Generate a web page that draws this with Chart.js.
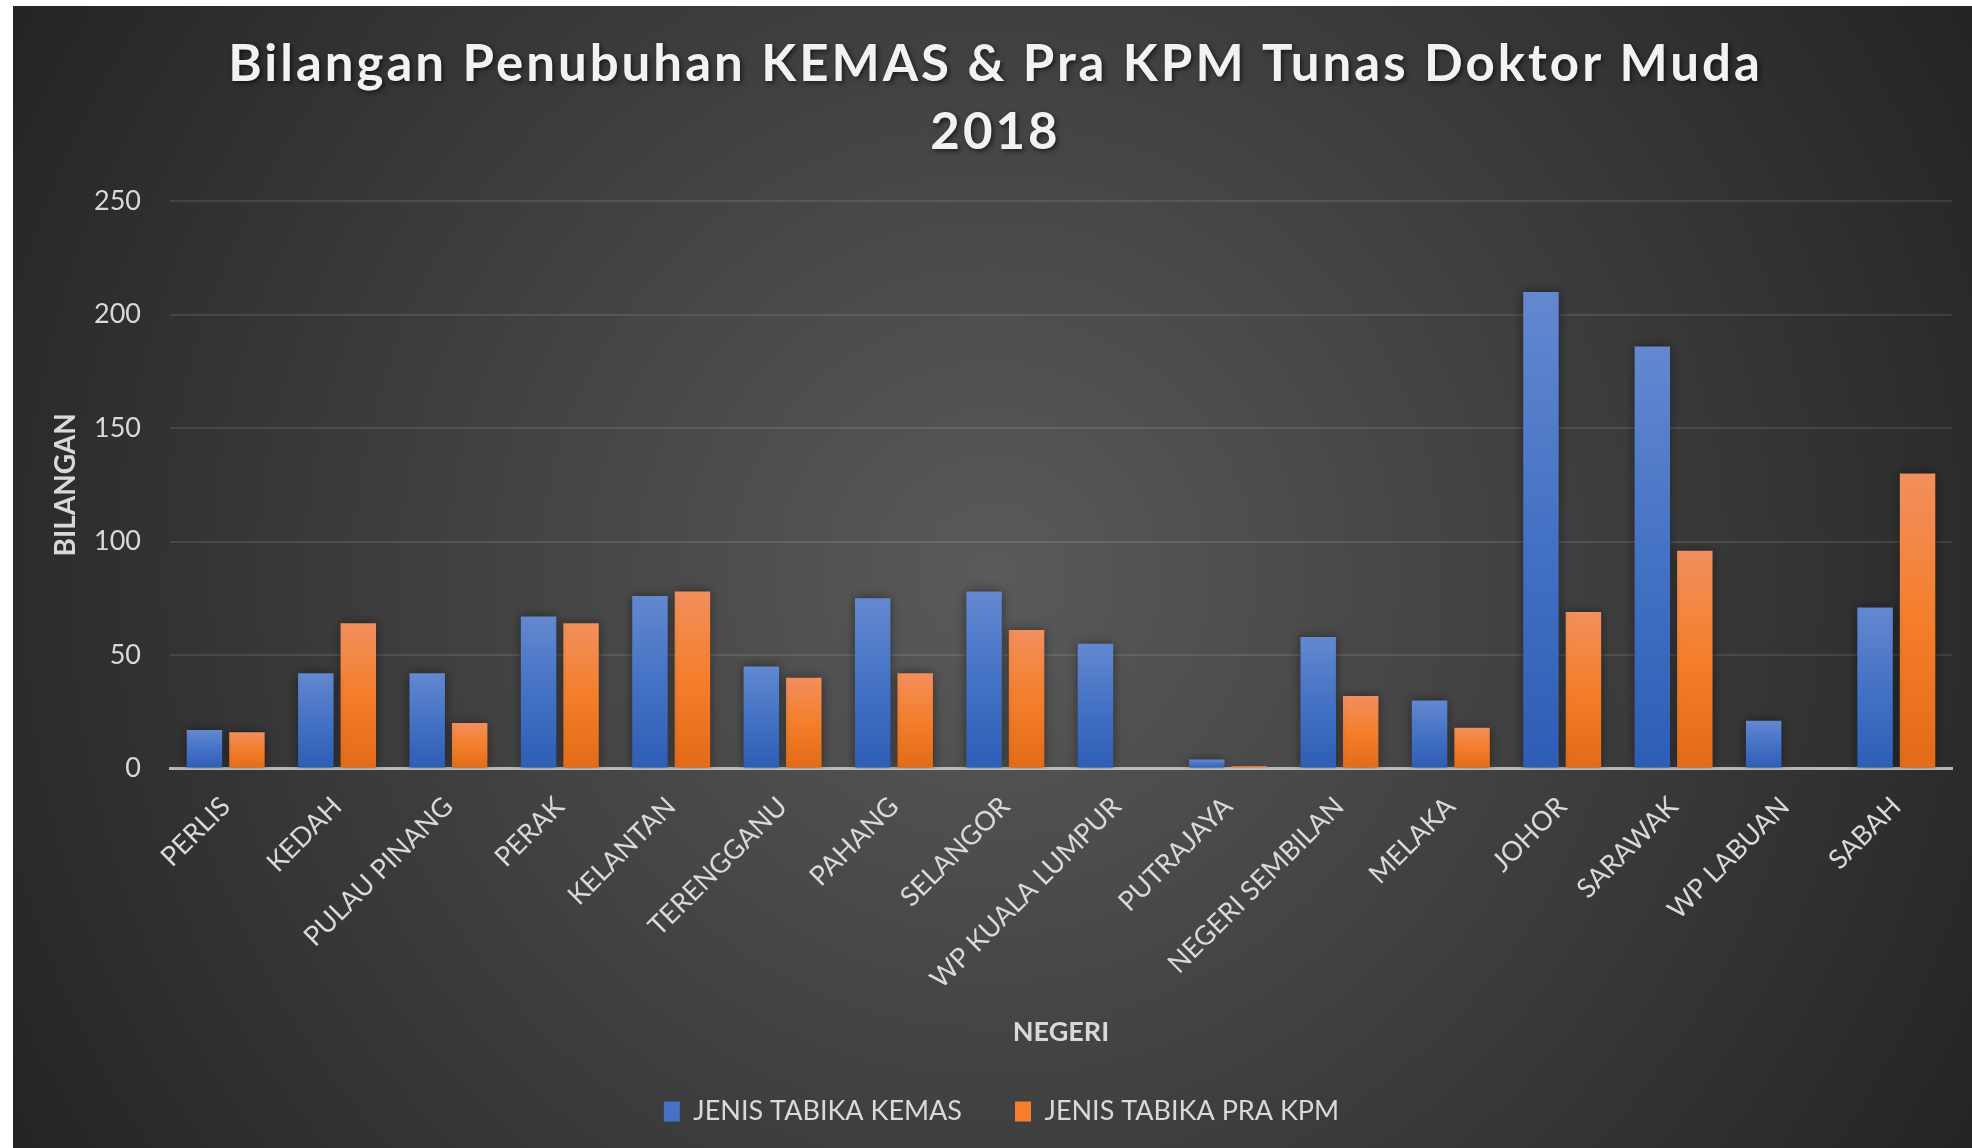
<!DOCTYPE html>
<html>
<head>
<meta charset="utf-8">
<script src="https://cdn.jsdelivr.net/npm/chart.js@4.4.0/dist/chart.umd.min.js"></script>
<style>
  html, body { margin: 0; padding: 0; background: #fff; }
  body { width: 1972px; height: 1148px; position: relative; overflow: hidden; }
  #chart { position: absolute; left: 13px; top: 6px; }
</style>
</head>
<body>
<canvas id="chart" width="1959" height="1142"></canvas>
<script>
const negeri = ['PERLIS', 'KEDAH', 'PULAU PINANG', 'PERAK', 'KELANTAN', 'TERENGGANU', 'PAHANG', 'SELANGOR',
  'WP KUALA LUMPUR', 'PUTRAJAYA', 'NEGERI SEMBILAN', 'MELAKA', 'JOHOR', 'SARAWAK', 'WP LABUAN', 'SABAH'];
const kemas = [17, 42, 42, 67, 76, 45, 75, 78, 55, 4, 58, 30, 210, 186, 21, 71];
const praKpm = [16, 64, 20, 64, 78, 40, 42, 61, 0, 1, 32, 18, 69, 96, 0, 130];
const yMax = 250;
const yStep = 50;

const blue = ['#6388d0', '#4472c4', '#2e5db6'];
const orange = ['#f28f5c', '#f47e2b', '#e36b18'];

// vertical gradient per bar, light on top, dark at the base
function barFill(stops) {
  return (ctx) => {
    const chart = ctx.chart;
    if (!chart.chartArea || ctx.type !== 'data') return stops[1];
    const y = chart.scales.y;
    const top = y.getPixelForValue(ctx.raw || 0);
    const base = y.getPixelForValue(0);
    if (!(base - top > 1)) return stops[1];
    const g = chart.ctx.createLinearGradient(0, top, 0, base);
    g.addColorStop(0, stops[0]);
    g.addColorStop(0.5, stops[1]);
    g.addColorStop(1, stops[2]);
    return g;
  };
}

const backdrop = {
  id: 'backdrop',
  beforeDraw(chart) {
    const { ctx, width, height } = chart;
    ctx.save();
    const g = ctx.createRadialGradient(width / 2, height / 2, 0, width / 2, height / 2, Math.hypot(width, height) / 2);
    g.addColorStop(0, '#5a5a5a');
    g.addColorStop(1, '#242424');
    ctx.fillStyle = g;
    ctx.fillRect(0, 0, width, height);
    ctx.restore();
  }
};

const barShadow = {
  id: 'barShadow',
  beforeDatasetsDraw(chart) {
    const ctx = chart.ctx;
    ctx.save();
    ctx.shadowColor = 'rgba(0,0,0,0.45)';
    ctx.shadowBlur = 10;
  },
  afterDatasetsDraw(chart) {
    chart.ctx.restore();
  }
};

// spaced + shadowed title, title and legend nudged right like the original
const textTweaks = {
  id: 'textTweaks',
  afterInit(chart) {
    const ctx = chart.ctx;
    const title = chart.titleBlock;
    const drawTitle = title.draw.bind(title);
    title.draw = function () {
      ctx.save();
      ctx.translate(13, 0);
      ctx.letterSpacing = '3px';
      ctx.shadowColor = 'rgba(0,0,0,0.6)';
      ctx.shadowBlur = 5;
      ctx.shadowOffsetX = 2;
      ctx.shadowOffsetY = 2;
      drawTitle();
      ctx.restore();
    };
    const legend = chart.legend;
    const drawLegend = legend.draw.bind(legend);
    legend.draw = function () {
      ctx.save();
      ctx.translate(19, 0);
      drawLegend();
      ctx.restore();
    };
  }
};

Chart.defaults.font.family = 'Lato, "Open Sans", sans-serif';
Chart.defaults.color = '#d9d9d9';

new Chart(document.getElementById('chart').getContext('2d'), {
  type: 'bar',
  data: {
    labels: negeri,
    datasets: [
      { label: 'JENIS TABIKA KEMAS', data: kemas, backgroundColor: barFill(blue), legendColor: blue[1] },
      { label: 'JENIS TABIKA PRA KPM', data: praKpm, backgroundColor: barFill(orange), legendColor: orange[1] }
    ]
  },
  options: {
    responsive: false,
    animation: false,
    devicePixelRatio: 1,
    categoryPercentage: 0.763,
    barPercentage: 0.835,
    layout: { padding: { left: 0, right: 20, top: 0, bottom: 13 } },
    plugins: {
      tooltip: { enabled: false },
      title: {
        display: true,
        text: ['Bilangan Penubuhan KEMAS & Pra KPM Tunas Doktor Muda', '2018'],
        color: '#f2f2f2',
        font: { size: 51, weight: 'bold', lineHeight: 1.34 },
        padding: { top: 24, bottom: 34.5 }
      },
      legend: {
        position: 'bottom',
        labels: {
          boxWidth: 16,
          boxHeight: 20,
          padding: 53,
          color: '#d9d9d9',
          font: { size: 27 },
          generateLabels(chart) {
            return chart.data.datasets.map((ds, i) => ({
              text: ds.label,
              fillStyle: ds.legendColor,
              strokeStyle: ds.legendColor,
              lineWidth: 0,
              fontColor: '#d9d9d9',
              hidden: false,
              datasetIndex: i
            }));
          }
        }
      }
    },
    scales: {
      x: {
        grid: { display: false, drawTicks: false },
        border: { display: true, color: 'rgba(205,205,205,0.85)', width: 3 },
        ticks: { autoSkip: false, minRotation: 45, maxRotation: 45, padding: 22, color: '#d9d9d9', font: { size: 27 } },
        title: { display: true, text: 'NEGERI', color: '#d9d9d9', font: { size: 27, weight: 'bold', lineHeight: 1.2 }, padding: { top: 0, bottom: -3.5 } },
        afterFit(scale) { scale.height = 276.5; }
      },
      y: {
        min: 0,
        max: yMax,
        grid: { color: 'rgba(255,255,255,0.1)', lineWidth: 2, drawTicks: false },
        border: { display: false },
        ticks: { stepSize: yStep, padding: 29, color: '#d9d9d9', font: { size: 27 } },
        title: { display: true, text: 'BILANGAN', color: '#d9d9d9', font: { size: 28, weight: 'bold', lineHeight: 1.2 }, padding: { top: 36.5, bottom: 0 } },
        afterFit(scale) { scale.width = 157; }
      }
    }
  },
  plugins: [backdrop, barShadow, textTweaks]
});
</script>
</body>
</html>
